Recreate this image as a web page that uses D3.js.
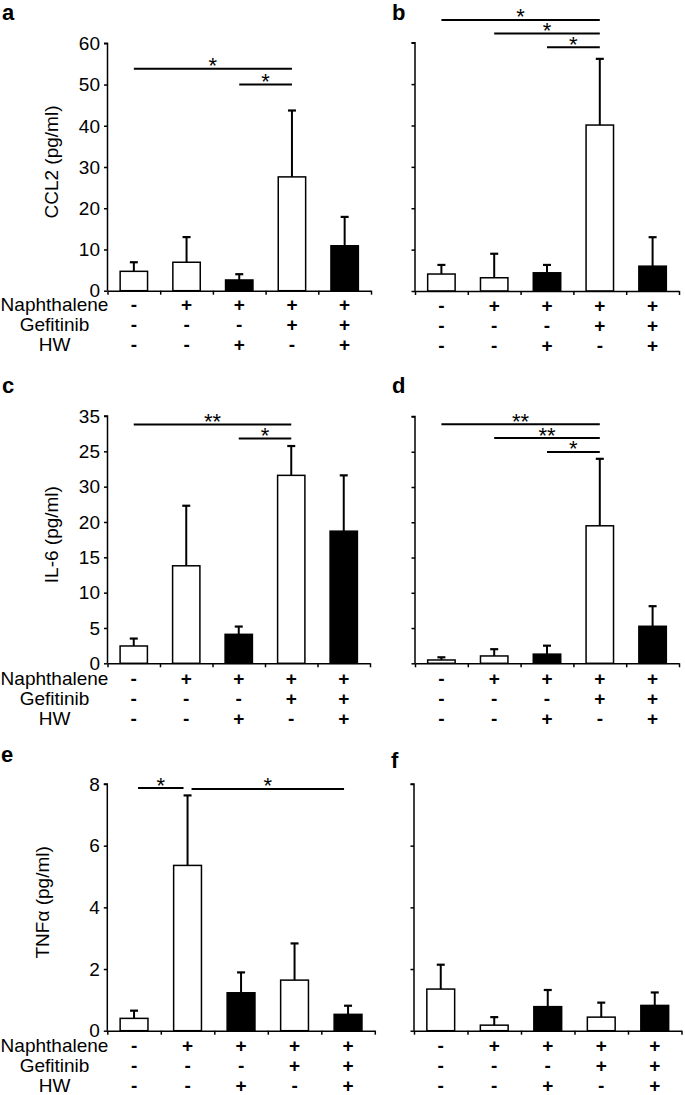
<!DOCTYPE html>
<html><head><meta charset="utf-8">
<script src="https://cdn.jsdelivr.net/npm/d3@7"></script>
<style>body{margin:0;background:#fff}svg{display:block}</style>
</head><body><svg id="chart" width="685" height="1095"></svg>
<script>
// ---------- data ----------
const naphthalene = ["-", "+", "+", "+", "+"];
const gefitinib   = ["-", "-", "-", "+", "+"];
const hw          = ["-", "-", "+", "-", "+"];
const rowNames = ["Naphthalene", "Gefitinib", "HW"];

const ccl2Lung     = [4.7, 6.9, 2.6, 27.6, 10.9];
const ccl2LungErr  = [6.9, 13.0, 4.0, 43.7, 17.9];
const ccl2Serum    = [4.1, 3.2, 4.4, 40.1, 6.0];
const ccl2SerumErr = [6.3, 9.0, 6.3, 56.1, 13.0];
const il6Lung      = [2.45, 13.8, 4.1, 26.6, 18.7];
const il6LungErr   = [3.5, 22.3, 5.2, 30.75, 26.6];
const il6Serum     = [0.47, 1.04, 1.3, 19.5, 5.25];
const il6SerumErr  = [0.85, 2.0, 2.5, 29.0, 8.1];
const tnfLung      = [0.4, 5.36, 1.23, 1.64, 0.53];
const tnfLungErr   = [0.65, 7.63, 1.89, 2.83, 0.81];
const tnfSerum     = [1.35, 0.18, 0.78, 0.44, 0.82];
const tnfSerumErr  = [2.14, 0.44, 1.32, 0.91, 1.24];

const ccl2Ticks = [0, 10, 20, 30, 40, 50, 60];
const ccl2TickLabels = ["0", "10", "20", "30", "40", "50", "60"];
const il6Ticks = [0, 5, 10, 15, 20, 25, 30, 35];
const il6TickLabels = ["0", "5", "10", "15", "20", "30", "25", "35"];
const tnfTicks = [0, 2, 4, 6, 8];
const tnfTickLabels = ["0", "2", "4", "6", "8"];

const yLabels = ["CCL2 (pg/ml)", "IL-6 (pg/ml)", "TNF\u03b1 (pg/ml)"];

// significance brackets: [fromGroup, toGroup, yValue, label]
const sigA = [[0, 3, 53.8, "*"], [2, 3, 50.0, "*"]];
const sigB = [[0, 3, 65.5, "*"], [1, 3, 62.2, "*"], [2, 3, 58.9, "*"]];
const sigC = [[0, 3, 33.8, "**"], [2, 3, 31.8, "*"]];
const sigD = [[0, 3, 33.9, "**"], [1, 3, 31.95, "**"], [2, 3, 29.97, "*"]];
const sigE = [[0, 1, 7.87, "*"], [1, 4, 7.84, "*"]];
const sigF = [];

// ---------- layout ----------
const FONT = "'Liberation Sans', Arial, Helvetica, sans-serif";
const svg = d3.select("#chart");

const panels = [
  {letter: "a", lx: 2,   ly: 20,  vals: ccl2Lung,  errs: ccl2LungErr,  domain: [0, 60], ticks: ccl2Ticks, tlabels: ccl2TickLabels, x0: 107.5, x1: 371,   y0: 290.7,  yT: 43.3,  ylab: yLabels[0], ylabX: 58, showLab: true, rowOff: 20.5, sig: sigA, inset: 0},
  {letter: "b", lx: 392, ly: 20,  vals: ccl2Serum, errs: ccl2SerumErr, domain: [0, 60], ticks: ccl2Ticks, tlabels: null,           x0: 415,   x1: 679,   y0: 291,    yT: 42.7,  showLab: false, rowOff: 20.5, sig: sigB, inset: 0},
  {letter: "c", lx: 2,   ly: 393, vals: il6Lung,   errs: il6LungErr,   domain: [0, 35], ticks: il6Ticks,  tlabels: il6TickLabels,  x0: 107.5, x1: 370,   y0: 663.3,  yT: 416,   ylab: yLabels[1], ylabX: 58, showLab: true, rowOff: 21.5, sig: sigC, inset: 0},
  {letter: "d", lx: 392, ly: 393, vals: il6Serum,  errs: il6SerumErr,  domain: [0, 35], ticks: il6Ticks,  tlabels: null,           x0: 415,   x1: 679,   y0: 663.3,  yT: 416.5, showLab: false, rowOff: 21.5, sig: sigD, inset: 0},
  {letter: "e", lx: 1,   ly: 762, vals: tnfLung,   errs: tnfLungErr,   domain: [0, 8],  ticks: tnfTicks,  tlabels: tnfTickLabels,  x0: 107.3, x1: 374.8, y0: 1030.7, yT: 784,   ylab: yLabels[2], ylabX: 49, showLab: true, rowOff: 21.5, sig: sigE, inset: 4},
  {letter: "f", lx: 391, ly: 768, vals: tnfSerum,  errs: tnfSerumErr,  domain: [0, 8],  ticks: tnfTicks,  tlabels: null,           x0: 414,   x1: 681.5, y0: 1030.7, yT: 784,   showLab: false, rowOff: 21.5, sig: sigF, inset: 0}
];

const groups = d3.range(5);
const rows = [naphthalene, gefitinib, hw];

panels.forEach(p => {
  const g = svg.append("g");
  const x = d3.scaleBand().domain(groups).range([p.x0, p.x1]).paddingInner(0.48).paddingOuter(0.24);
  const xb = d3.scaleLinear().domain([0, 5]).range([p.x0, p.x1]);
  const y = d3.scaleLinear().domain(p.domain).range([p.y0, p.yT]);
  const cx = i => x(i) + x.bandwidth() / 2;

  // bars
  g.selectAll("rect.bar").data(p.vals).join("rect")
    .attr("class", "bar")
    .attr("x", (d, i) => x(i))
    .attr("width", x.bandwidth())
    .attr("y", d => y(d))
    .attr("height", d => y(0) - y(d))
    .attr("fill", (d, i) => hw[i] === "+" ? "#000" : "#fff")
    .attr("stroke", "#000").attr("stroke-width", 1.5);

  // error bars (upper)
  g.selectAll("line.err").data(p.errs).join("line")
    .attr("class", "err")
    .attr("x1", (d, i) => cx(i)).attr("x2", (d, i) => cx(i))
    .attr("y1", (d, i) => y(p.vals[i])).attr("y2", d => y(d))
    .attr("stroke", "#000").attr("stroke-width", 2);
  g.selectAll("line.cap").data(p.errs).join("line")
    .attr("class", "cap")
    .attr("x1", (d, i) => cx(i) - 4).attr("x2", (d, i) => cx(i) + 4)
    .attr("y1", d => y(d)).attr("y2", d => y(d))
    .attr("stroke", "#000").attr("stroke-width", 2.2);

  // y axis
  const ya = d3.axisLeft(y).tickValues(p.ticks).tickSize(3.5).tickPadding(4)
    .tickFormat((d, i) => p.tlabels ? p.tlabels[i] : "");
  const yg = g.append("g").attr("transform", `translate(${p.x0},0)`).call(ya);
  yg.select(".domain").attr("stroke-width", 1.5).attr("d", `M-3.5,${p.yT}H0V${p.y0}`);
  yg.selectAll(".tick line").attr("stroke-width", 1.5);
  yg.selectAll("text").attr("font-family", FONT).attr("font-size", 19).attr("fill", "#000")
    .attr("dy", "0.33em");

  // x axis
  const xa = d3.axisBottom(xb).tickValues(d3.range(6)).tickSize(4).tickSizeOuter(0).tickFormat("");
  const xg = g.append("g").attr("transform", `translate(0,${p.y0})`).call(xa);
  xg.select(".domain").attr("stroke-width", 1.5);
  xg.selectAll(".tick line").attr("stroke-width", 1.5);

  // y label
  if (p.ylab) {
    const my = (p.y0 + p.yT) / 2 - 5;
    g.append("text").attr("transform", `translate(${p.ylabX},${my}) rotate(-90)`)
      .attr("text-anchor", "middle").attr("font-family", FONT).attr("font-size", 19)
      .text(p.ylab);
  }

  // treatment rows
  rows.forEach((r, ri) => {
    const by = p.y0 + p.rowOff + ri * 20;
    if (p.showLab) {
      g.append("text").attr("x", 54.5).attr("y", by).attr("text-anchor", "middle")
        .attr("font-family", FONT).attr("font-size", 19).text(rowNames[ri]);
    }
    g.selectAll(null).data(r).join("text")
      .attr("x", (d, i) => cx(i)).attr("y", by).attr("text-anchor", "middle")
      .attr("font-family", FONT).attr("font-size", 19).attr("font-weight", "bold")
      .text(d => d);
  });

  // significance lines
  p.sig.forEach(s => {
    const xa1 = cx(s[0]) + p.inset, xa2 = cx(s[1]) - p.inset, yy = y(s[2]);
    g.append("line").attr("x1", xa1).attr("x2", xa2).attr("y1", yy).attr("y2", yy)
      .attr("stroke", "#000").attr("stroke-width", 2);
    g.append("text").attr("x", (xa1 + xa2) / 2).attr("y", yy + 4.5).attr("text-anchor", "middle")
      .attr("font-family", FONT).attr("font-size", 22).text(s[3]);
  });

  // panel letter
  g.append("text").attr("x", p.lx).attr("y", p.ly).attr("font-family", FONT)
    .attr("font-size", 22).attr("font-weight", "bold").text(p.letter);
});
</script>
</body></html>
